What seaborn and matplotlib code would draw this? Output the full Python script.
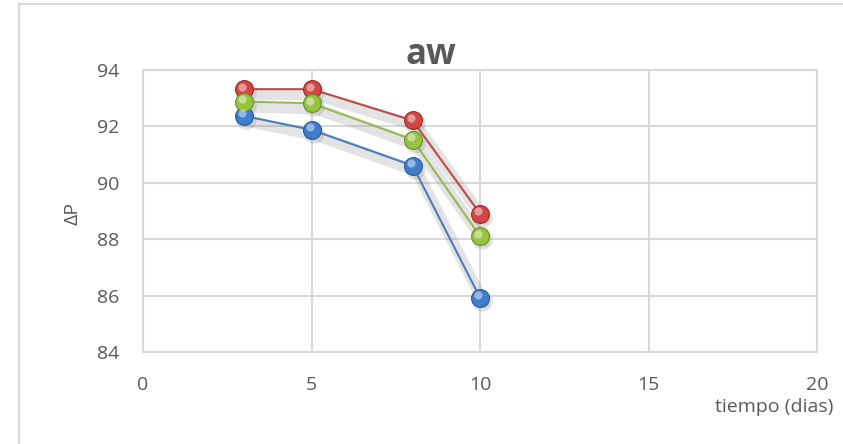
import matplotlib
matplotlib.use("Agg")
import matplotlib.pyplot as plt
import matplotlib.patheffects as pe
import matplotlib.transforms as mtransforms
from matplotlib.lines import Line2D
import pandas as pd
import seaborn as sns

# Measurements: ΔP over storage time for three samples
tiempo = [3, 5, 8, 10]
serie_1 = [92.37, 91.88, 90.61, 85.93]
serie_2 = [93.32, 93.32, 92.21, 88.91]
serie_3 = [92.88, 92.82, 91.53, 88.11]
nombres = ["Serie 1", "Serie 2", "Serie 3"]

x_ticks = [0, 5, 10, 15, 20]
y_ticks = [84, 86, 88, 90, 92, 94]

line_colors = ["#4A7EBB", "#BE4B48", "#98B954"]
ball_colors = ["#3E7DCC", "#D44545", "#97C43F"]
ball_edges = ["#2A5A9A", "#9A2E2C", "#6A8E2A"]

df = pd.DataFrame({
    "tiempo": tiempo * 3,
    "dP": serie_1 + serie_2 + serie_3,
    "serie": [n for n in nombres for _ in tiempo],
})

sns.set_theme(style="white")
plt.rcParams["font.family"] = ["Open Sans", "DejaVu Sans"]

fig = plt.figure(figsize=(8.43, 4.44), dpi=100)
ax = fig.add_axes([143 / 843, 1 - 352 / 444, (817 - 143) / 843, (352 - 70) / 444])

# outer chart frame (left and top edges visible)
fig.add_artist(Line2D([19 / 843, 19 / 843], [0, 1 - 4 / 444], transform=fig.transFigure,
                      color="#D9D9D9", lw=1.5))
fig.add_artist(Line2D([19 / 843, 1], [1 - 4 / 444, 1 - 4 / 444], transform=fig.transFigure,
                      color="#D9D9D9", lw=1.5))

sns.lineplot(data=df, x="tiempo", y="dP", hue="serie", palette=line_colors,
             linewidth=1.5, legend=False, ax=ax, zorder=3)

shadow = [pe.SimpleLineShadow(offset=(3, -4), shadow_color="#808080", alpha=0.22, linewidth=8),
          pe.Normal()]
for line in ax.get_lines():
    line.set_path_effects(shadow)

# spherical markers: soft shadow, body, highlight
off_shadow = mtransforms.ScaledTranslation(2 / 100, -3 / 100, fig.dpi_scale_trans)
off_light = mtransforms.ScaledTranslation(-2 / 100, 2.5 / 100, fig.dpi_scale_trans)
for name, bc, ec in zip(nombres, ball_colors, ball_edges):
    sub = df[df["serie"] == name]
    ax.scatter(sub["tiempo"], sub["dP"], s=220, color="#7F7F7F", alpha=0.22,
               linewidths=0, zorder=4, transform=ax.transData + off_shadow)
    ax.scatter(sub["tiempo"], sub["dP"], s=165, color=bc, edgecolors=ec,
               linewidths=0.8, zorder=5)
    ax.scatter(sub["tiempo"], sub["dP"], s=35, color="white", alpha=0.45,
               linewidths=0, zorder=6, transform=ax.transData + off_light)

ax.set_xlim(0, 20)
ax.set_ylim(84, 94)
ax.set_xticks(x_ticks)
ax.set_yticks(y_ticks)
ax.grid(True, color="#D9D9D9", linewidth=1.5)
ax.set_axisbelow(True)
for s in ax.spines.values():
    s.set_color("#D9D9D9")
    s.set_linewidth(1.5)
ax.tick_params(axis="both", length=0, labelsize=14, labelcolor="#595959")
ax.tick_params(axis="x", pad=17)
ax.tick_params(axis="y", pad=17)

ax.set_xlabel("")
ax.set_ylabel("")
fig.text(73 / 843, 1 - 213 / 444, "ΔP", rotation=90, ha="center", va="center",
         fontsize=14, color="#595959")
fig.text(833 / 843, 1 - 407 / 444, "tiempo (dias)", ha="right", va="center",
         fontsize=14, color="#595959")
fig.text(431 / 843, 1 - 55 / 444, "aw", ha="center", va="center",
         fontsize=25, fontweight="bold", color="#595959")

fig.savefig("out.png", dpi=100)
